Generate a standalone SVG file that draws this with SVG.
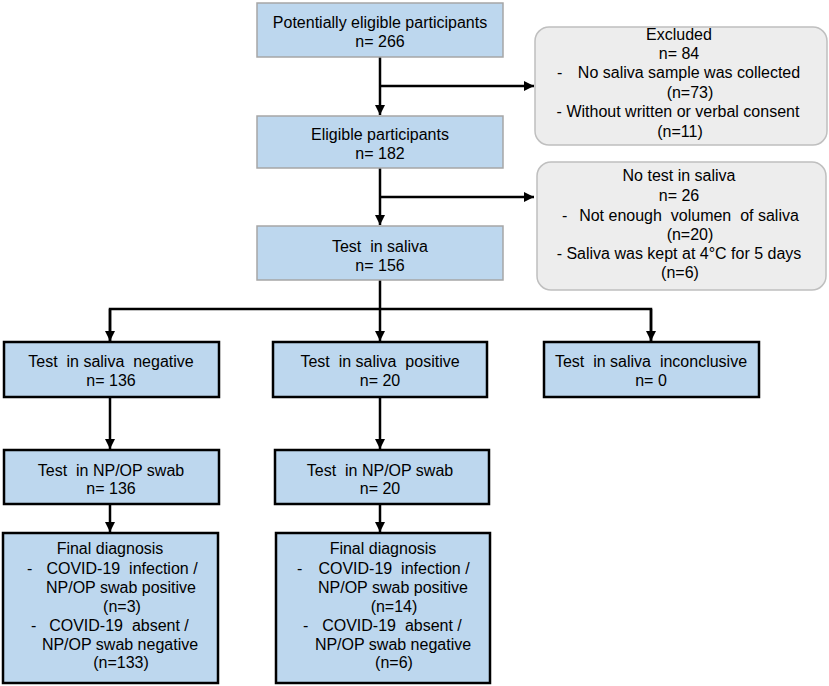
<svg xmlns="http://www.w3.org/2000/svg" width="829" height="686" viewBox="0 0 829 686">
<style>
text{font-family:"Liberation Sans",Arial,sans-serif;font-size:16px;fill:#000;}
.c{text-anchor:middle;}
.top{fill:#BDD7EE;stroke:#A6A6A6;stroke-width:1.5;}
.blk{fill:#BDD7EE;stroke:#000;stroke-width:2.5;}
.gray{fill:#EDEDED;stroke:#BFBFBF;stroke-width:1.5;}
.ln{stroke:#000;stroke-width:2.5;fill:none;}
.ar{stroke:#000;stroke-width:2.5;fill:none;marker-end:url(#ah);}
</style>
<defs>
<marker id="ah" viewBox="0 0 10 10" refX="10" refY="5" markerWidth="10" markerHeight="14" markerUnits="userSpaceOnUse" orient="auto">
<path d="M0,0 L10,5 L0,10 z" fill="#000"/>
</marker>
</defs>
<rect width="829" height="686" fill="#fff"/>
<g id="connectors">
<line class="ar" x1="380" y1="57" x2="380" y2="115"/>
<line class="ar" x1="380" y1="86" x2="534" y2="86"/>
<line class="ar" x1="380" y1="168" x2="380" y2="225"/>
<line class="ar" x1="380" y1="197" x2="534" y2="197"/>
<line class="ar" x1="380" y1="280" x2="380" y2="341"/>
<polyline class="ln" points="110,341 110,309 651,309 651,341"/>
<line class="ar" x1="110" y1="309" x2="110" y2="341"/>
<line class="ar" x1="651" y1="309" x2="651" y2="341"/>
<line class="ar" x1="110" y1="397" x2="110" y2="449"/>
<line class="ar" x1="380" y1="397" x2="380" y2="449"/>
<line class="ar" x1="110" y1="504" x2="110" y2="532"/>
<line class="ar" x1="380" y1="504" x2="380" y2="532"/>
</g>
<g id="potentially">
<rect class="top" x="257" y="3" width="246" height="54"/>
<text class="c" x="380" y="28">Potentially eligible participants</text>
<text class="c" x="380" y="47">n= 266</text>
</g>
<g id="excluded">
<rect class="gray" x="535" y="27" width="292" height="118" rx="14"/>
<text class="c" x="679" y="40">Excluded</text>
<text class="c" x="679" y="59">n= 84</text>
<text x="557" y="78">-</text>
<text class="c" x="689" y="78">No saliva sample was collected</text>
<text class="c" x="690" y="98">(n=73)</text>
<text class="c" x="678" y="117">- Without written or verbal  consent</text>
<text class="c" x="680" y="137">(n=11)</text>
</g>
<g id="eligible">
<rect class="top" x="257" y="116" width="246" height="52"/>
<text class="c" x="380" y="140">Eligible participants</text>
<text class="c" x="380" y="159">n= 182</text>
</g>
<g id="notest">
<rect class="gray" x="537" y="162" width="289" height="128" rx="14"/>
<text class="c" x="679" y="181">No test in saliva</text>
<text class="c" x="679" y="201">n= 26</text>
<text x="562" y="221">-</text>
<text class="c" x="689" y="221" xml:space="preserve">Not enough  volumen  of saliva</text>
<text class="c" x="690" y="240">(n=20)</text>
<text class="c" x="679" y="259">- Saliva was kept at 4°C for 5 days</text>
<text class="c" x="680" y="278">(n=6)</text>
</g>
<g id="saliva">
<rect class="top" x="257" y="226" width="246" height="54"/>
<text class="c" x="380" y="252" xml:space="preserve">Test  in saliva</text>
<text class="c" x="380" y="271">n= 156</text>
</g>
<g id="negative">
<rect class="blk" x="4" y="342" width="215" height="55"/>
<text class="c" x="111" y="367" xml:space="preserve">Test  in saliva  negative</text>
<text class="c" x="111" y="386">n= 136</text>
</g>
<g id="positive">
<rect class="blk" x="273" y="342" width="214" height="55"/>
<text class="c" x="380" y="367" xml:space="preserve">Test  in saliva  positive</text>
<text class="c" x="380" y="386">n= 20</text>
</g>
<g id="inconclusive">
<rect class="blk" x="544" y="342" width="215" height="55"/>
<text class="c" x="651" y="367" xml:space="preserve">Test  in saliva  inconclusive</text>
<text class="c" x="651" y="386">n= 0</text>
</g>
<g id="npop1">
<rect class="blk" x="4" y="450" width="215" height="54"/>
<text class="c" x="111" y="476" xml:space="preserve">Test  in NP/OP swab</text>
<text class="c" x="111" y="494">n= 136</text>
</g>
<g id="npop2">
<rect class="blk" x="275" y="450" width="214" height="54"/>
<text class="c" x="380" y="476" xml:space="preserve">Test  in NP/OP swab</text>
<text class="c" x="380" y="494">n= 20</text>
</g>
<g id="final1">
<rect class="blk" x="3" y="533" width="215" height="150"/>
<text class="c" x="110" y="554">Final diagnosis</text>
<text x="27" y="574">-</text>
<text class="c" x="122" y="574" xml:space="preserve">COVID-19  infection /</text>
<text class="c" x="121" y="593">NP/OP swab positive</text>
<text class="c" x="122" y="612">(n=3)</text>
<text x="31" y="631">-</text>
<text class="c" x="119" y="631" xml:space="preserve">COVID-19  absent /</text>
<text class="c" x="120" y="650">NP/OP swab negative</text>
<text class="c" x="121" y="668">(n=133)</text>
</g>
<g id="final2">
<rect class="blk" x="276" y="533" width="214" height="150"/>
<text class="c" x="383" y="554">Final diagnosis</text>
<text x="297" y="574">-</text>
<text class="c" x="394" y="574" xml:space="preserve">COVID-19  infection /</text>
<text class="c" x="393" y="593">NP/OP swab positive</text>
<text class="c" x="394" y="612">(n=14)</text>
<text x="303" y="631">-</text>
<text class="c" x="392" y="631" xml:space="preserve">COVID-19  absent /</text>
<text class="c" x="393" y="650">NP/OP swab negative</text>
<text class="c" x="394" y="668">(n=6)</text>
</g>
</svg>
